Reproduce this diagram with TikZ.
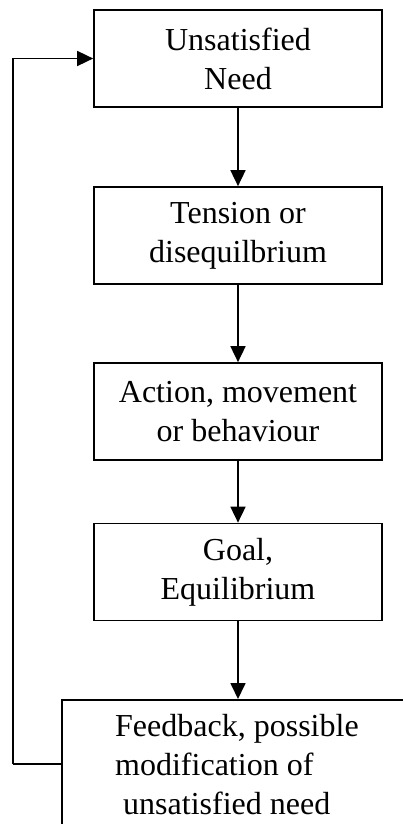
\documentclass[tikz,border=0pt]{standalone}
\usepackage{fontspec}
\setmainfont{Liberation Serif}
\usetikzlibrary{arrows.meta}
\begin{document}
\begin{tikzpicture}[x=1pt,y=-1pt,
  every node/.style={font=\fontsize{32}{39}\selectfont},
  stage/.style={draw,line width=1.7pt,minimum width=288pt,minimum height=97pt,
    inner sep=0pt,align=center},
  flow/.style={line width=1.7pt,-{Triangle[width=15pt,length=16pt]}},
  link/.style={line width=1.7pt}]
\useasboundingbox (0,0) rectangle (403,824);
\clip (0,0) rectangle (403,824);
\fill[white] (0,0) rectangle (403,824);

\node[stage] (need)   at (238,58.5)  {Unsatisfied\\Need};
\node[stage] (tension) at (238,235.5) {Tension or\\disequilbrium};
\node[stage] (action) at (238,411.5) {Action, movement\\or behaviour};
\node[stage] (goal)   at (238,572)   {Goal,\\Equilibrium};

% feedback box runs off the page to the right and bottom
\node[draw,line width=1.7pt,anchor=north west,minimum width=380pt,
  minimum height=160pt,inner sep=0pt] (feedback) at (61,699) {};
\node[anchor=north west,align=left,inner sep=0pt] (fbtext) at (115,714.5)
  {Feedback, possible\\modification of\\\hspace*{8pt}unsatisfied need};

\draw[flow] (need) -- (tension);
\draw[flow] (tension) -- (action);
\draw[flow] (action) -- (goal);
\draw[flow] (goal.south) -- (goal.south |- feedback.north);

\coordinate (back) at (13,764);
\draw[link] (feedback.west |- back) -- (back);
\draw[flow] (back) -- (back |- need.west) -- (need.west);
\end{tikzpicture}
\end{document}
